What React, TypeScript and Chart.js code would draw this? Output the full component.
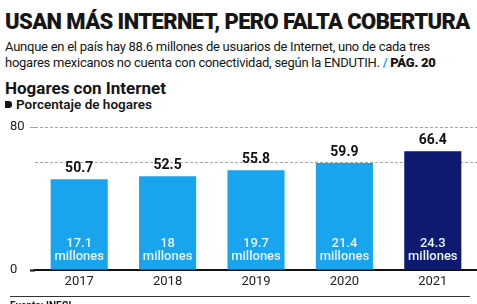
import React, { useEffect, useRef } from "react";
import { Chart, registerables } from "chart.js";

Chart.register(...registerables);

const years = ["2017", "2018", "2019", "2020", "2021"];
const percentHogares = [50.7, 52.5, 55.8, 59.9, 66.4];
const millonesHogares = ["17.1", "18", "19.7", "21.4", "24.3"];
const barColors = ["#18a5ee", "#18a5ee", "#18a5ee", "#18a5ee", "#0d1a70"];
const yTickLabels = [0, 80];

const FONT = "Roboto, 'Noto Sans', sans-serif";

const labelPlugin = {
  id: "barLabels",
  afterDatasetsDraw(chart: any) {
    const ctx = chart.ctx;
    const meta = chart.getDatasetMeta(0);
    const yScale = chart.scales.y;
    const zero = yScale.getPixelForValue(0);
    ctx.save();
    ctx.textAlign = "center";
    ctx.textBaseline = "alphabetic";
    meta.data.forEach((el: any, i: number) => {
      ctx.fillStyle = "#111";
      ctx.font = `bold 14px ${FONT}`;
      ctx.fillText(String(percentHogares[i]), el.x, el.y - 7);
      ctx.fillStyle = "#eaf5ff";
      ctx.font = `500 13px ${FONT}`;
      ctx.fillText(millonesHogares[i], el.x, zero - 23);
      ctx.fillText("millones", el.x, zero - 10);
    });
    ctx.restore();
  },
};

function HogaresChart() {
  const ref = useRef<HTMLCanvasElement | null>(null);
  useEffect(() => {
    if (!ref.current) return;
    const chart = new Chart(ref.current, {
      type: "bar",
      data: {
        labels: years,
        datasets: [
          {
            data: percentHogares,
            backgroundColor: barColors,
            borderWidth: 0,
            categoryPercentage: 0.646,
            barPercentage: 1,
          },
        ],
      },
      options: {
        responsive: false,
        maintainAspectRatio: false,
        animation: false,
        events: [],
        layout: { padding: { left: 10, right: 0, top: 15, bottom: 0 } },
        plugins: {
          legend: { display: false },
          tooltip: { enabled: false },
          title: { display: false },
        },
        scales: {
          x: {
            afterFit: (s: any) => {
              s.height = 34;
            },
            grid: { display: true, drawOnChartArea: false, drawTicks: false, color: "rgba(0,0,0,0)" },
            border: { display: true, color: "#111", width: 2 },
            ticks: {
              padding: 4,
              color: "#222",
              font: { family: FONT, size: 13 },
            },
          },
          y: {
            min: 0,
            max: 80,
            afterFit: (s: any) => {
              s.width = 25;
            },
            border: { display: false, dash: [3, 2] },
            grid: {
              tickLength: 5,
              color: (c: any) =>
                c.tick && (c.tick.value === 60 || c.tick.value === 80) ? "#a5a5a5" : "rgba(0,0,0,0)",
              tickColor: (c: any) =>
                c.tick && c.tick.value === 0
                  ? "#111"
                  : c.tick && c.tick.value === 80
                  ? "#a5a5a5"
                  : "rgba(0,0,0,0)",
              tickWidth: (c: any) => (c.tick && c.tick.value === 0 ? 2 : 1),
              tickBorderDash: [],
            },
            ticks: {
              stepSize: 20,
              crossAlign: "far",
              padding: 0,
              color: "#222",
              font: { family: FONT, size: 13 },
              callback: (v: any) => (yTickLabels.includes(Number(v)) ? String(v) : ""),
            },
          },
        },
      },
      plugins: [labelPlugin],
    } as any);
    return () => chart.destroy();
  }, []);
  return <canvas ref={ref} width={477} height={192} style={{ display: "block" }} />;
}

export default function App() {
  useEffect(() => {
    document.body.style.margin = "0";
  }, []);
  return (
    <div
      style={{
        position: "absolute",
        left: 0,
        top: 0,
        width: 477,
        height: 304,
        overflow: "hidden",
        background: "#fff",
        fontFamily: FONT,
        color: "#161616",
      }}
    >
      <div
        style={{
          position: "absolute",
          left: 5,
          top: 11,
          fontSize: 22,
          fontWeight: 900,
          lineHeight: "22px",
          letterSpacing: "-0.6px",
          whiteSpace: "nowrap",
        }}
      >
        USAN MÁS INTERNET, PERO FALTA COBERTURA
      </div>
      <div
        style={{
          position: "absolute",
          left: 5,
          top: 39,
          fontSize: 13,
          lineHeight: "16px",
          letterSpacing: "-0.25px",
          whiteSpace: "nowrap",
        }}
      >
        Aunque en el país hay 88.6 millones de usuarios de Internet, uno de cada tres
        <br />
        hogares mexicanos no cuenta con conectividad, según la ENDUTIH.{" "}
        <span style={{ color: "#1aa6ec", fontWeight: 700 }}>/</span>{" "}
        <span style={{ fontWeight: 900 }}>PÁG. 20</span>
      </div>
      <div
        style={{
          position: "absolute",
          left: 5,
          top: 79,
          fontSize: 17,
          fontWeight: 700,
          lineHeight: "19px",
          letterSpacing: "0px",
          whiteSpace: "nowrap",
        }}
      >
        Hogares con Internet
      </div>
      <div
        style={{
          position: "absolute",
          left: 5,
          top: 97,
          fontSize: 13.5,
          fontWeight: 600,
          lineHeight: "14px",
          whiteSpace: "nowrap",
          display: "flex",
          alignItems: "center",
        }}
      >
        <span
          style={{
            display: "inline-block",
            width: 7,
            height: 7,
            background: "#161616",
            borderRadius: "0 3px 3px 0",
            marginRight: 4,
          }}
        />
        Porcentaje de hogares
      </div>
      <div style={{ position: "absolute", left: 0, top: 112, width: 477, height: 192 }}>
        <HogaresChart />
      </div>
      <div
        style={{
          position: "absolute",
          left: 10,
          top: 296,
          width: 460,
          borderTop: "1px solid #333",
          paddingTop: 3,
          fontSize: 10,
          fontWeight: 700,
          lineHeight: "12px",
        }}
      >
        Fuente: INEGI
      </div>
    </div>
  );
}
